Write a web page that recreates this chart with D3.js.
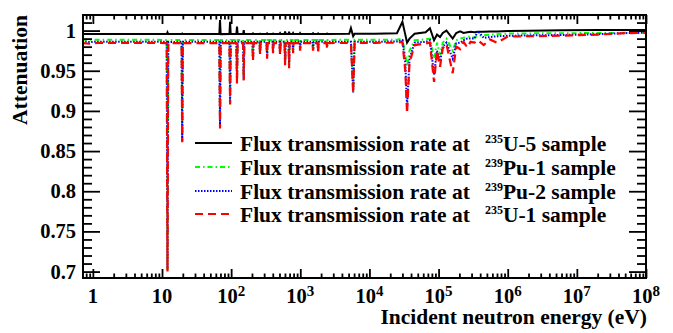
<!DOCTYPE html>
<html>
<head>
<meta charset="utf-8">
<script src="https://cdn.jsdelivr.net/npm/d3@7"></script>
<style>
  body { margin: 0; background: #fff; }
  text { font-family: "Liberation Serif", "Times New Roman", serif; font-weight: bold; fill: #000; }
</style>
</head>
<body>
<svg id="chart" width="673" height="333"></svg>
<script>
// incident neutron energy (eV), shared by all four curves
const energy = [0.7, 0.9, 1.2, 3, 7, 11.7, 12.0, 12.3, 19.2, 19.6,
  20.0, 67.5, 69, 70.5, 94.5, 96.5, 98.5, 119, 121.5, 124,
  149, 152, 155, 203, 207, 211, 257, 262, 267, 325,
  331, 337, 397, 404, 411, 500, 510, 520, 592, 603,
  614, 677, 689, 701, 773, 787, 801, 975, 993, 1010,
  1500, 1530, 1560, 1780, 1810, 1840, 2400, 2440, 2480, 5100,
  5400, 5820, 6100, 1.2e4, 2.5e4, 3.0e4, 3.3e4, 3.5e4, 3.8e4, 4.5e4,
  6.5e4, 7.5e4, 8.6e4, 9.5e4, 1.05e5, 1.15e5, 1.3e5, 1.6e5, 1.8e5, 2.05e5,
  2.3e5, 2.6e5, 2.9e5, 3.3e5, 3.7e5, 4.5e5, 5.5e5, 7e5, 1e6, 2e6,
  6e6, 2e7, 5e7, 1e8];

// 235U-5 sample (black)
const u5 = [.9957, .9957, .9957, .9956, .9956, .9956, .9978, .9956, .9956, .9962,
  .9956, .9956, 1.013, .9956, .9957, 1.011, .9957, .9957, 1.005, .9957,
  .9957, 1.0005, .9957, .9957, .9965, .9957, .9957, .9962, .9957, .9957,
  .9965, .9957, .9957, .9962, .9957, .9957, .9968, .9957, .9958, .9990,
  .9958, .9958, .9985, .9958, .9958, .9970, .9958, .9958, .9968, .9958,
  .9958, .9966, .9958, .9958, .9965, .9958, .9958, .9963, .9958, .9960,
  1.003, .9930, .9960, .9962, .9968, 1.011, .9950, .9850, .9900, .9960,
  .9980, 1.003, .9880, .9950, .9920, .9970, 1.000, .9900, .9970, .9990,
  .9970, .9980, .9985, .9980, .9985, .9985, .9990, .9990, .9995, .9998,
  1.0004, 1.0006, 1.0007, 1.0008];

// 239Pu-1 sample (green)
const pu1 = [.9886, .9886, .9886, .9885, .9885, .9884, .703, .9882, .9884, .864,
  .9884, .9884, .881, .9884, .9884, .910, .9884, .9884, .936, .9884,
  .9884, .940, .9884, .9884, .965, .9884, .9884, .973, .9884, .9884,
  .968, .9884, .9884, .975, .9884, .9884, .973, .9884, .9884, .960,
  .9884, .9884, .956, .9884, .9884, .975, .9884, .9884, .978, .9884,
  .9884, .978, .9884, .9884, .976, .9884, .9884, .980, .9884, .9885,
  .9885, .925, .9885, .9885, .9886, .9900, .970, .955, .975, .9880,
  .9890, .9900, .965, .985, .970, .985, .990, .975, .988, .990,
  .991, .992, .993, .991, .994, .994, .995, .9955, .9962, .9965,
  .9967, .997, .9972, .9975];

// 239Pu-2 sample (blue)
const pu2 = [.9862, .9858, .9862, .9861, .9861, .9860, .702, .9858, .9860, .862,
  .9860, .9860, .879, .9860, .9860, .909, .9860, .9860, .935, .9860,
  .9860, .939, .9860, .9860, .963, .9860, .9860, .971, .9860, .9860,
  .966, .9860, .9860, .973, .9860, .9860, .971, .9860, .9860, .958,
  .9860, .9860, .954, .9860, .9860, .973, .9860, .9860, .976, .9860,
  .9860, .976, .9860, .9860, .974, .9860, .9860, .979, .9860, .9861,
  .9861, .923, .9861, .9862, .9863, .9880, .960, .905, .965, .9850,
  .9860, .9880, .945, .975, .962, .980, .985, .965, .984, .985,
  .988, .990, .990, .990, .9995, .991, .992, .993, .9935, .994,
  .9945, .9955, .9968, .9975];

// 235U-1 sample (red)
const u1 = [.9846, .9836, .9848, .9846, .9846, .9845, .700, .9843, .9845, .861,
  .9845, .9845, .878, .9845, .9845, .908, .9845, .9845, .934, .9845,
  .9845, .938, .9845, .9845, .962, .9845, .9845, .970, .9845, .9845,
  .965, .9845, .9845, .972, .9845, .9845, .970, .9845, .9845, .957,
  .9845, .9845, .953, .9845, .9845, .972, .9845, .9845, .975, .9845,
  .9845, .975, .9845, .9845, .973, .9845, .9845, .978, .9845, .9846,
  .9846, .922, .9846, .9848, .9849, .9860, .950, .897, .960, .9820,
  .9840, .9850, .936, .975, .955, .978, .983, .947, .980, .977,
  .986, .979, .986, .985, .988, .982, .989, .985, .9925, .993,
  .9937, .995, .9968, .9975];

const seriesIso = ["235", "239", "239", "235"];
const seriesName = ["U-5", "Pu-1", "Pu-2", "U-1"];
const yTickLabels = [0.7, 0.75, 0.8, 0.85, 0.9, 0.95, 1];
const xTickLabels = [1, 10, 1e2, 1e3, 1e4, 1e5, 1e6, 1e7, 1e8];

const svg = d3.select("#chart");
const pL = 83, pR = 646, pT = 15, pB = 278;

const x = d3.scaleLog().domain([0.72, 1e8]).range([pL, pR]);
const y = d3.scaleLinear().domain([0.692, 1.0194]).range([pB, pT]);

const styles = [
  {color: "#000", dash: null, width: 2},
  {color: "#00ff00", dash: "5,3,1.5,3", width: 2},
  {color: "#0000ff", dash: "1.5,1.5", width: 2},
  {color: "#ff0000", dash: "8,5", width: 2.2}
];
const curves = [u5, pu1, pu2, u1];

svg.append("clipPath").attr("id", "frame")
  .append("rect").attr("x", pL).attr("y", pT)
  .attr("width", pR - pL).attr("height", pB - pT);

const line = d3.line()
  .x(d => x(d[0]))
  .y(d => y(d[1]));

const plot = svg.append("g").attr("clip-path", "url(#frame)");
curves.forEach((vals, i) => {
  plot.append("path")
    .datum(d3.zip(energy, vals))
    .attr("d", line)
    .attr("fill", "none")
    .attr("stroke", styles[i].color)
    .attr("stroke-width", styles[i].width)
    .attr("stroke-dasharray", styles[i].dash);
});

// ticks on all four sides, pointing inwards
const xMinor = [];
for (let n = -1; n < 8; n++) {
  for (let k = 2; k < 10; k++) {
    const v = k * Math.pow(10, n);
    if (v >= 0.72 && v <= 1e8) xMinor.push(v);
  }
}
const yMinor = d3.range(70, 102).map(v => v / 100).filter(v => yTickLabels.indexOf(v) < 0);

function ticks(axis, tr, values, size) {
  const g = svg.append("g").attr("transform", tr)
    .call(axis.tickValues(values).tickSize(-size).tickFormat(""));
  g.select(".domain").remove();
  g.selectAll("line").attr("stroke-width", 1.8);
}
ticks(d3.axisBottom(x), `translate(0,${pB})`, xTickLabels, 9);
ticks(d3.axisBottom(x), `translate(0,${pB})`, xMinor, 4.5);
ticks(d3.axisTop(x), `translate(0,${pT})`, xTickLabels, 9);
ticks(d3.axisTop(x), `translate(0,${pT})`, xMinor, 4.5);
ticks(d3.axisLeft(y), `translate(${pL},0)`, yTickLabels, 17);
ticks(d3.axisLeft(y), `translate(${pL},0)`, yMinor, 9);
ticks(d3.axisRight(y), `translate(${pR},0)`, yTickLabels, 17);
ticks(d3.axisRight(y), `translate(${pR},0)`, yMinor, 9);

svg.append("rect")
  .attr("x", pL).attr("y", pT)
  .attr("width", pR - pL).attr("height", pB - pT)
  .attr("fill", "none").attr("stroke", "#000").attr("stroke-width", 2);

// tick labels
yTickLabels.forEach(v => {
  svg.append("text")
    .attr("x", 76).attr("y", y(v) + 7)
    .attr("text-anchor", "end").attr("font-size", 20.5)
    .text(String(v));
});
xTickLabels.forEach(v => {
  const n = Math.round(Math.log10(v));
  const t = svg.append("text")
    .attr("x", x(v)).attr("y", 303)
    .attr("text-anchor", "middle").attr("font-size", 20.5);
  if (n < 2) {
    t.text(String(v));
  } else {
    t.append("tspan").text("10");
    t.append("tspan").attr("dy", -7).attr("font-size", 15).text(n);
  }
});

// axis titles
svg.append("text")
  .attr("transform", "translate(27,15) rotate(-90)")
  .attr("text-anchor", "end").attr("font-size", 21.5)
  .text("Attenuation");
svg.append("text")
  .attr("x", 647).attr("y", 324)
  .attr("text-anchor", "end").attr("font-size", 21.5)
  .text("Incident neutron energy (eV)");

// legend
const legY = [143, 167, 191, 214];
styles.forEach((s, i) => {
  svg.append("line")
    .attr("x1", 195).attr("x2", 232)
    .attr("y1", legY[i]).attr("y2", legY[i])
    .attr("stroke", s.color).attr("stroke-width", s.width)
    .attr("stroke-dasharray", s.dash);
  const t = svg.append("text")
    .attr("x", 240).attr("y", legY[i] + 7.5)
    .attr("font-size", 21.5);
  t.append("tspan").text("Flux transmission rate at");
  t.append("tspan").attr("dx", 15).attr("dy", -8).attr("font-size", 12).text(seriesIso[i]);
  t.append("tspan").attr("dy", 8).text(seriesName[i] + " sample");
});
</script>
</body>
</html>
